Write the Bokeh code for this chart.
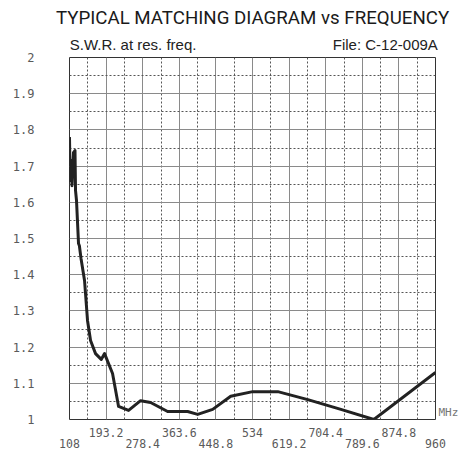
from bokeh.plotting import figure
from bokeh.models import FixedTicker, LinearAxis, Title, Range1d
from bokeh.embed import file_html
from bokeh.resources import INLINE

# data
freq = [108, 109.5, 112.7, 113.8, 117.3, 120.8, 122, 124.3, 129, 131, 134.8, 143, 150, 157,
        168.6, 181.9, 189.6, 208.2, 222.2, 245.5, 273.5, 296.8, 336.4, 383, 406.4, 441.3,
        483.3, 534.6, 592.9, 662.8, 739.7, 816.6, 960]
swr = [1.78, 1.66, 1.715, 1.646, 1.737, 1.743, 1.633, 1.605, 1.486, 1.48, 1.445, 1.384, 1.273,
       1.218, 1.182, 1.166, 1.182, 1.127, 1.036, 1.025, 1.052, 1.047, 1.022, 1.022, 1.014,
       1.028, 1.064, 1.077, 1.077, 1.055, 1.028, 1.0, 1.13]

x_ticks = [108, 193.2, 278.4, 363.6, 448.8, 534, 619.2, 704.4, 789.6, 874.8, 960]
x_labels = ["108", "193.2", "278.4", "363.6", "448.8", "534", "619.2", "704.4", "789.6", "874.8", "960"]
x_minor = [150.6, 235.8, 321, 406.2, 491.4, 576.6, 661.8, 747, 832.2, 917.4]
y_ticks = [1, 1.1, 1.2, 1.3, 1.4, 1.5, 1.6, 1.7, 1.8, 1.9, 2]
y_labels = ["1", "1.1", "1.2", "1.3", "1.4", "1.5", "1.6", "1.7", "1.8", "1.9", "2"]
y_minor = [1.05, 1.15, 1.25, 1.35, 1.45, 1.55, 1.65, 1.75, 1.85, 1.95]

title_text = "TYPICAL MATCHING DIAGRAM vs FREQUENCY"
subtitle_left = "S.W.R. at res. freq."
subtitle_right = "File:  C-12-009A"
subtitle_at = [256, 848]          # centres of the two header texts
unit_text = "MHz"
unit_at = [1.02]

p = figure(width=466, height=454, output_backend="svg", toolbar_location=None,
           x_range=Range1d(108, 960), y_range=Range1d(1, 2),
           min_border_left=69, min_border_top=57, min_border_right=31, min_border_bottom=35,
           x_axis_location=None, y_axis_location=None)
p.background_fill_color = "white"
p.border_fill_color = "white"
p.outline_line_color = "#333333"
p.outline_line_width = 1

mono = "DejaVu Sans Mono"
lab_col = "#5a5a5a"

def bare(ax):
    ax.axis_line_color = None
    ax.major_tick_line_color = None
    ax.minor_tick_line_color = None
    ax.major_tick_out = 0
    ax.major_tick_in = 0
    return ax

# header texts (axis above, no line / ticks)
hdr = bare(LinearAxis(ticker=FixedTicker(ticks=subtitle_at),
                      major_label_overrides={subtitle_at[0]: subtitle_left,
                                             subtitle_at[1]: subtitle_right}))
hdr.major_label_standoff = 5
hdr.major_label_text_font = "Liberation Sans"
hdr.major_label_text_font_size = "15px"
hdr.major_label_text_color = "#222222"
p.add_layout(hdr, "above")

t = Title(text=title_text, align="center", text_font="Roboto", text_font_size="18.7px",
          text_font_style="normal", text_color="#1a1a1a", standoff=8)
p.add_layout(t, "above")

# y axis
yax = bare(LinearAxis(ticker=FixedTicker(ticks=y_ticks),
                      major_label_overrides={tk: lb for tk, lb in zip(y_ticks, y_labels)}))
yax.major_label_standoff = 35
yax.major_label_text_font = mono
yax.major_label_text_font_size = "12px"
yax.major_label_text_color = lab_col
p.add_layout(yax, "left")

# unit text at the right of the frame
uax = bare(LinearAxis(ticker=FixedTicker(ticks=unit_at),
                      major_label_overrides={unit_at[0]: unit_text}))
uax.major_label_standoff = 3
uax.major_label_text_font = mono
uax.major_label_text_font_size = "11px"
uax.major_label_text_color = "#777777"
p.add_layout(uax, "right")

# x axes, staggered rows
def make_xaxis(idx, standoff):
    ticks = [x_ticks[i] for i in idx]
    ax = bare(LinearAxis(ticker=FixedTicker(ticks=ticks),
                         major_label_overrides={x_ticks[i]: x_labels[i] for i in idx}))
    ax.major_label_standoff = standoff
    ax.major_label_text_font = mono
    ax.major_label_text_font_size = "11.5px"
    ax.major_label_text_color = lab_col
    return ax

p.add_layout(make_xaxis([1, 3, 5, 7, 9], 8), "below")
p.add_layout(make_xaxis([0, 2, 4, 6, 8, 10], -1), "below")

# grids
p.xgrid.ticker = FixedTicker(ticks=x_ticks, minor_ticks=x_minor)
p.ygrid.ticker = FixedTicker(ticks=y_ticks, minor_ticks=y_minor)
for g in (p.xgrid, p.ygrid):
    g.grid_line_color = "#8a8a8a"
    g.grid_line_width = 1
    g.minor_grid_line_color = "#555555"
    g.minor_grid_line_dash = "2 2"
    g.minor_grid_line_width = 1

p.line(freq, swr, line_color="#222222", line_width=3, line_join="round")

open("out.html", "w").write(file_html(p, INLINE))
